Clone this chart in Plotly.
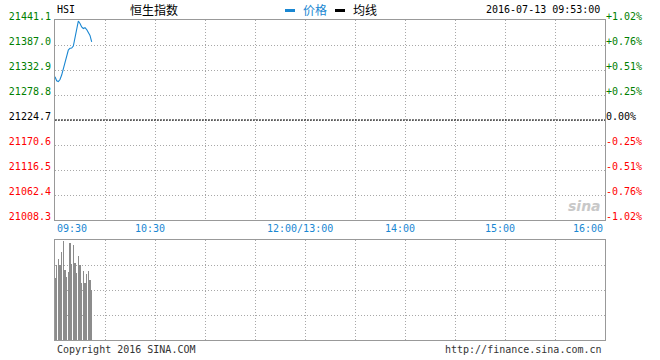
import plotly.graph_objects as go

# ---- data ----
minutes = list(range(23))  # trading minutes since 09:30
price = [21318.4, 21309.7, 21308.0, 21312.3, 21322.0, 21336.0, 21350.2, 21363.2,
         21376.2, 21379.9, 21380.5, 21384.8, 21404.3, 21422.7, 21438.9, 21433.5,
         21426.0, 21422.7, 21424.4, 21420.5, 21415.1, 21407.6, 21394.0]
volume = [62, 75, 81, 75, 88, 99, 70, 63, 68, 97, 76, 95, 77, 67, 84, 75,
          57, 69, 57, 66, 69, 60, 50]

price_ticks = [21441.1, 21387.0, 21332.9, 21278.8, 21224.7, 21170.6, 21116.5, 21062.4, 21008.3]
pct_labels = ["+1.02%", "+0.76%", "+0.51%", "+0.25%", "0.00%", "-0.25%", "-0.51%", "-0.76%", "-1.02%"]
prev_close = 21224.7

time_ticks = [0, 60, 150, 210, 270, 330]
time_labels = ["09:30", "10:30", "12:00/13:00", "14:00", "15:00", "16:00"]
total_minutes = 330

GREEN = "#008000"
RED = "#ff0000"
BLUE = "#1a87d2"
GRAY = "#999999"
MONO = "DejaVu Sans Mono"
CJK = "Noto Sans CJK SC"


def col(v):
    if abs(v - prev_close) < 1e-6:
        return "#000000"
    return GREEN if v > prev_close else RED


left_text = [f'<span style="color:{col(v)}">{v:.1f}</span>' for v in price_ticks]
right_text = [f'<span style="color:{col(v)}">{t}</span>' for v, t in zip(price_ticks, pct_labels)]

fig = go.Figure()
fig.add_trace(go.Scatter(x=minutes, y=price, mode="lines",
                         line=dict(color=BLUE, width=1.1), xaxis="x", yaxis="y",
                         showlegend=False, hoverinfo="skip"))
fig.add_trace(go.Scatter(x=[0], y=[prev_close], mode="markers", opacity=0,
                         xaxis="x", yaxis="y2", showlegend=False, hoverinfo="skip"))
fig.add_trace(go.Bar(x=minutes, y=volume, marker=dict(color="#8c8c8c", line=dict(width=0)),
                     xaxis="x2", yaxis="y3", showlegend=False, hoverinfo="skip"))

grid = dict(showgrid=True, gridcolor="#a8a8a8", griddash="1px,2px", gridwidth=1,
            showline=True, linecolor=GRAY, linewidth=1, mirror=True, zeroline=False,
            automargin=False)

yr = [price_ticks[-1], price_ticks[0]]
fig.update_layout(
    width=660, height=360,
    margin=dict(l=55, r=55, t=20, b=20, autoexpand=False),
    paper_bgcolor="white", plot_bgcolor="white",
    bargap=0.6,
    xaxis=dict(domain=[0, 1], anchor="y", range=[0, total_minutes], tick0=0, dtick=30,
               showticklabels=False, ticks="", **grid),
    yaxis=dict(domain=[0.375, 1], anchor="x", range=yr, tickmode="array",
               tickvals=price_ticks, ticktext=left_text, ticks="",
               tickfont=dict(family=MONO, size=10), ticklabelshift=-4,
               ticklabelstandoff=1, **grid),
    yaxis2=dict(overlaying="y", side="right", anchor="x", range=yr, tickmode="array",
                tickvals=price_ticks, ticktext=right_text, ticks="",
                tickfont=dict(family=MONO, size=10), ticklabelshift=-4,
                ticklabelstandoff=0, showgrid=False, zeroline=False, showline=False,
                automargin=False),
    xaxis2=dict(domain=[0, 1], anchor="y3", matches="x", range=[0, total_minutes],
                tick0=0, dtick=30, showticklabels=False, ticks="", **grid),
    yaxis3=dict(domain=[0, 0.3125], anchor="x2", range=[0, 100], tickmode="array",
                tickvals=[25, 50, 75], showticklabels=False, ticks="", **grid),
)

# previous-close reference line
fig.add_shape(type="line", xref="x", yref="y", x0=0, x1=total_minutes, y0=prev_close, y1=prev_close,
              line=dict(color="#000000", width=1, dash="2px,1px"))

# time labels
anchors = ["left", "center", "center", "center", "center", "right"]
for t, lab, a in zip(time_ticks, time_labels, anchors):
    fig.add_annotation(x=t, y=(340 - 228) / 320, xref="x", yref="paper", text=lab,
                       showarrow=False, xanchor=a, yanchor="middle",
                       xshift=0 if a != "center" else -5,
                       font=dict(family=MONO, size=10, color=BLUE))

# header texts
fig.add_annotation(x=0, y=1.032, xref="paper", yref="paper", text="HSI", showarrow=False,
                   xanchor="left", yanchor="middle", font=dict(family=MONO, size=10, color="#000"))
fig.add_annotation(x=(154 - 55) / 550, y=1.032, xref="paper", yref="paper", text="恒生指数",
                   showarrow=False, xanchor="center", yanchor="middle",
                   font=dict(family=CJK, size=12, color="#000"))
fig.add_annotation(x=(602 - 55) / 550, y=1.032, xref="paper", yref="paper",
                   text="2016-07-13 09:53:00", showarrow=False, xanchor="right", yanchor="middle",
                   font=dict(family=MONO, size=10, color="#000"))
# legend
for x0, name, c in [(285, "价格", BLUE), (335, "均线", "#000000")]:
    fig.add_shape(type="rect", xref="paper", yref="paper",
                  x0=(x0 - 55) / 550, x1=(x0 + 10 - 55) / 550,
                  y0=(340 - 12) / 320, y1=(340 - 9) / 320,
                  fillcolor=c, line=dict(width=0))
    fig.add_annotation(x=(x0 + 16 - 55) / 550, y=1.032, xref="paper", yref="paper", text=name,
                       showarrow=False, xanchor="left", yanchor="middle",
                       font=dict(family=CJK, size=12, color=c))

# footer
fig.add_annotation(x=0, y=-0.031, xref="paper", yref="paper", text="Copyright 2016 SINA.COM",
                   showarrow=False, xanchor="left", yanchor="middle",
                   font=dict(family=MONO, size=10, color="#333"))
fig.add_annotation(x=(604 - 55) / 550, y=-0.031, xref="paper", yref="paper",
                   text="http://finance.sina.com.cn", showarrow=False, xanchor="right",
                   yanchor="middle", font=dict(family=MONO, size=10, color="#333"))
# watermark
fig.add_annotation(x=(584 - 55) / 550, y=(340 - 206) / 320, xref="paper", yref="paper",
                   text="<i><b>sina</b></i>", showarrow=False, xanchor="center", yanchor="middle",
                   font=dict(family="DejaVu Sans", size=14, color="#c8c8c8"))

fig.write_html("out.html", config={"displayModeBar": False},
               post_script="document.body.style.margin='0';document.body.style.padding='0';")
